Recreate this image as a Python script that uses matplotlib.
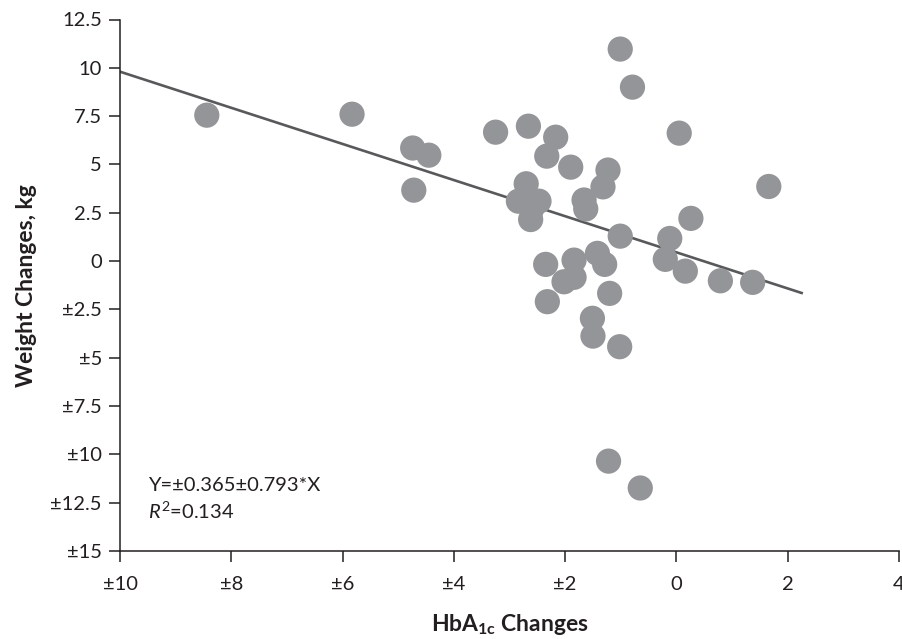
import matplotlib
matplotlib.use("Agg")
import matplotlib.pyplot as plt

# Data
hba1c = [-8.44, -5.83, -4.74, -4.45, -4.72, -3.25, -2.66, -2.17, -2.33, -1.90,
         -2.70, -2.84, -2.47, -2.62, -2.60, -1.66, -1.63, -1.23, -1.32, -1.01,
         -0.79, 0.05, 1.66, 0.26, -1.01, -0.12, -0.20, 0.16, -2.35, -1.84,
         -2.02, -1.84, -1.42, -1.29, -2.32, -1.20, -1.51, -1.50, -1.02, 0.79,
         1.37, -1.22, -0.65]
weight = [7.55, 7.60, 5.85, 5.48, 3.67, 6.67, 6.98, 6.41, 5.43, 4.86,
          4.00, 3.10, 3.10, 2.15, 2.70, 3.16, 2.70, 4.71, 3.84, 10.97,
          9.00, 6.62, 3.86, 2.21, 1.29, 1.17, 0.09, -0.52, -0.17, 0.05,
          -1.07, -0.84, 0.40, -0.17, -2.10, -1.67, -2.96, -3.88, -4.43, -1.02,
          -1.10, -10.35, -11.74]

line_x = [-10.0, 2.25]
line_y = [9.8, -1.65]

x_ticks = [-10, -8, -6, -4, -2, 0, 2, 4]
x_tick_labels = ["±10", "±8", "±6", "±4", "±2", "0", "2", "4"]
y_ticks = [12.5, 10, 7.5, 5, 2.5, 0, -2.5, -5, -7.5, -10, -12.5, -15]
y_tick_labels = ["12.5", "10", "7.5", "5", "2.5", "0", "±2.5", "±5", "±7.5",
                 "±10", "±12.5", "±15"]

plt.rcParams['font.family'] = ['Lato', 'DejaVu Sans']
plt.rcParams['mathtext.fontset'] = 'custom'
plt.rcParams['mathtext.rm'] = 'Lato'
plt.rcParams['mathtext.it'] = 'Lato:italic'
plt.rcParams['mathtext.bf'] = 'Lato:bold'

fig = plt.figure(figsize=(9.02, 6.39), dpi=100)
ax = fig.add_axes([120/902, 1-551/639, (899-120)/902, (551-19.5)/639])

ax.scatter(hba1c, weight, s=330, color="#939598", edgecolors="none", zorder=3,
           clip_on=False)
ax.plot(line_x, line_y, color="#58595b", lw=1.9, zorder=2)

ax.set_xlim(-10, 4)
ax.set_ylim(-15, 12.5)
ax.set_xticks(x_ticks)
ax.set_xticklabels(x_tick_labels)
ax.set_yticks(y_ticks)
ax.set_yticklabels(y_tick_labels)

for side in ["top", "right"]:
    ax.spines[side].set_visible(False)
for side in ["left", "bottom"]:
    ax.spines[side].set_color("#231f20")
    ax.spines[side].set_linewidth(1.1)

ax.tick_params(axis="both", direction="out", length=8, width=1.1,
               color="#231f20", labelsize=14.5, labelcolor="#231f20")
ax.tick_params(axis="x", pad=10)
ax.tick_params(axis="y", pad=5)

ax.set_xlabel("HbA$_{\\mathbf{1c}}$ Changes", fontsize=16.5, fontweight="bold",
              color="#231f20", labelpad=14)
ax.set_ylabel("Weight Changes, kg", fontsize=16.5, fontweight="bold",
              color="#231f20", labelpad=10)

ax.text(0.036, 0.124, "Y=±0.365±0.793*X", transform=ax.transAxes, fontsize=14.5,
        color="#231f20", va="center", ha="left")
ax.text(0.036, 0.075, "$\\mathit{R}^2$=0.134", transform=ax.transAxes, fontsize=14.5,
        color="#231f20", va="center", ha="left")

fig.savefig("out.png", dpi=100)
